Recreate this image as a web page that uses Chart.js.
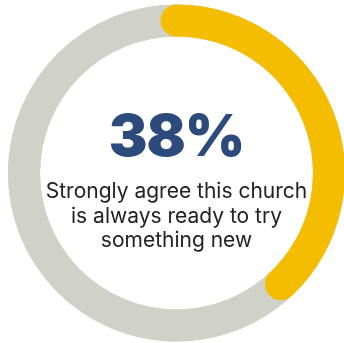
<!DOCTYPE html>
<html>
<head>
<meta charset="utf-8">
<script src="https://cdn.jsdelivr.net/npm/chart.js@4/dist/chart.umd.min.js"></script>
<style>
  html, body { margin: 0; padding: 0; background: #fff; overflow: hidden; }
  #wrap { position: relative; width: 345px; height: 343px; }
  #label { position: absolute; left: 0; width: 353px; top: 100px; text-align: center; }
  #big { font-family: Inter, sans-serif; font-weight: 900; font-size: 58px; color: #2d4a7c; line-height: 70px; letter-spacing: -1px; }
  #sub { font-family: Inter, sans-serif; font-size: 21px; color: #222; line-height: 24.5px; margin-top: 9px; }
</style>
</head>
<body>
<div id="wrap">
  <canvas id="ring" width="345" height="343"></canvas>
  <div id="label">
    <div id="big">38%</div>
    <div id="sub">Strongly agree this church<br>is always ready to try<br>something new</div>
  </div>
</div>
<script>
"use strict";

var labels = ["Strongly agree", "Other"];
var values = [38, 62];
var ringColors = ["#f5bd00", "#d1d2c7"];

// gray track under the ring + round caps on the yellow arc, from the arc's own geometry
var roundCaps = {
  id: "roundCaps",
  beforeDatasetsDraw: function (chart) {
    var arc = chart.getDatasetMeta(0).data[1];
    var ctx = chart.ctx;
    ctx.save();
    ctx.beginPath();
    ctx.arc(arc.x, arc.y, arc.outerRadius, 0, Math.PI * 2);
    ctx.arc(arc.x, arc.y, arc.innerRadius, 0, Math.PI * 2, true);
    ctx.fillStyle = ringColors[1];
    ctx.fill();
    ctx.restore();
  },
  afterDatasetsDraw: function (chart) {
    var arc = chart.getDatasetMeta(0).data[0];
    var ctx = chart.ctx;
    var mid = (arc.outerRadius + arc.innerRadius) / 2;
    var r = (arc.outerRadius - arc.innerRadius) / 2;
    ctx.save();
    ctx.fillStyle = ringColors[0];
    [arc.startAngle, arc.endAngle].forEach(function (a) {
      ctx.beginPath();
      ctx.arc(arc.x + mid * Math.cos(a), arc.y + mid * Math.sin(a), r, 0, Math.PI * 2);
      ctx.fill();
    });
    ctx.restore();
  },
};

var ctx = document.getElementById("ring").getContext("2d");
new Chart(ctx, {
  type: "doughnut",
  data: {
    labels: labels,
    datasets: [
      {
        data: values,
        backgroundColor: ringColors,
        borderWidth: 0,
        hoverOffset: 0,
      },
    ],
  },
  options: {
    responsive: false,
    animation: false,
    events: [],
    cutout: "81%",
    layout: { padding: { left: 8, right: 0, top: 4, bottom: 1 } },
    plugins: { legend: { display: false }, tooltip: { enabled: false } },
  },
  plugins: [roundCaps],
});
</script>
</body>
</html>
